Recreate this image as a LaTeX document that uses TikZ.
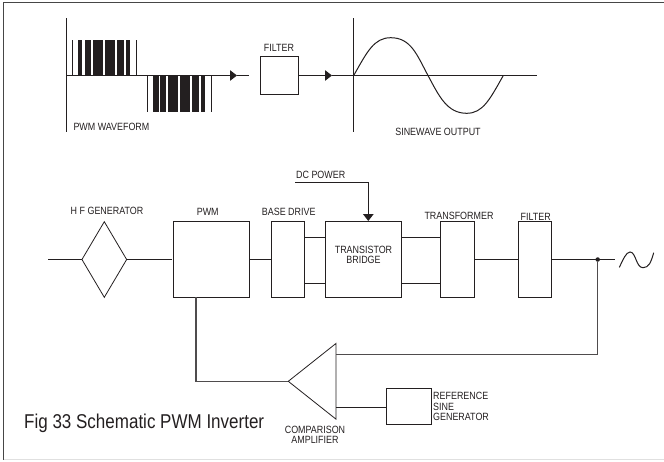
\documentclass[tikz,border=0pt]{standalone}
\usepackage{fontspec}
\setmainfont[FakeStretch=0.85]{Liberation Sans}
\usepackage{xcolor}
\usetikzlibrary{arrows.meta,shapes.geometric}
\definecolor{inkdark}{RGB}{35,31,32}
\definecolor{framegrey}{RGB}{70,70,70}
\tikzset{
  blockbox/.style={draw=inkdark,line width=0.9pt,inner sep=0pt,outer sep=0pt},
  sigline/.style={draw=inkdark,line width=1pt},
  fbline/.style={draw=inkdark!80,line width=1.2pt},
  sigarrow/.style={sigline,-{Triangle[length=7pt,width=10.5pt]}},
  lab/.style={font=\fontsize{10.5}{10.5}\selectfont,text=inkdark,inner sep=0pt}
}
\begin{document}
\begin{tikzpicture}[x=1pt,y=-1pt]
  \useasboundingbox (0,0) rectangle (664,461);
  % frame
  \draw[framegrey,line width=1.2pt] (3.5,459.5) -- (3.5,2.5) -- (664,2.5);
  \draw[black!12,line width=0.8pt] (3.5,459.5) -- (664,459.5);

  % pwm waveform
  \foreach \a/\b in {72.3/73.3,77.5/82.3,84.7/91,92.7/103.3,105/115,117/123.7,125.7/130.3,135.7/136.7}{
    \fill[inkdark] (\a,39.5) rectangle (\b,75.5);
  }
  \foreach \a/\b in {146.7/147.5,152.7/158.7,160/166,168/178.3,180/190,192/198.7,201/205.3,210.7/211.7}{
    \fill[inkdark] (\a,75.5) rectangle (\b,112);
  }
  \coordinate (pwmtop) at (66,18);
  \coordinate (pwmbot) at (66,132);
  \coordinate (pwmzero) at (66,75.5);
  \coordinate (pwmtip) at (237,75.5);
  \coordinate (pwmend) at (249,75.5);
  \draw[sigline] (pwmtop) -- (pwmbot);
  \draw[sigarrow] (pwmzero) -- (pwmtip);
  \draw[sigline] (pwmtip) -- (pwmend);
  \node[lab,anchor=west] (pwmlab) at (73.3,126.5) {PWM WAVEFORM};

  % filter between the plots
  \node[blockbox,minimum width=38.7pt,minimum height=38.7pt] (topfilter) at (279.3,75.5) {};
  \node[lab] (topfilterlab) at (279,48) {FILTER};
  \coordinate (sinetop) at (353.7,18);
  \coordinate (sinebot) at (353.7,132);
  \coordinate (sinezero) at (353.7,75.5);
  \coordinate (sineend) at (536.7,75.5);
  \coordinate (filtertip) at (332,75.5);
  \draw[sigarrow] (topfilter) -- (filtertip);
  \draw[sigline] (filtertip) -- (sinezero);

  % sinewave
  \draw[sigline] (sinetop) -- (sinebot);
  \draw[sigline] (sinezero) -- (sineend);
  \draw[sigline] (sinezero) .. controls (367,52) and (374,37.7) .. (390.7,37.7)
    .. controls (411,37.7) and (417,55) .. (428,75.5)
    .. controls (439,96) and (447,113.3) .. (466.7,113.3)
    .. controls (483,113.3) and (490,99) .. (503.3,75.5);
  \node[lab] (sinelab) at (438,132) {SINEWAVE OUTPUT};

  % lower chain
  \coordinate (inlet) at (48,259.5);
  \coordinate (pwmin) at (171.7,259.5);
  \node[draw=inkdark,line width=0.8pt,diamond,aspect=0.6,inner sep=0pt,outer sep=0pt,minimum width=44.7pt,minimum height=75.6pt] (hfgen) at (104.3,259.5) {};
  \node[blockbox,minimum width=76.4pt,minimum height=75.5pt] (pwm) at (211.5,259.5) {};
  \node[blockbox,minimum width=33.7pt,minimum height=75.5pt] (basedrive) at (287.9,259.5) {};
  \node[blockbox,minimum width=76.4pt,minimum height=75.5pt] (bridge) at (363.5,259.5) {};
  \node[blockbox,minimum width=33.7pt,minimum height=75.5pt] (xformer) at (457.2,259.5) {};
  \node[blockbox,minimum width=33.4pt,minimum height=75.5pt] (outfilter) at (535,259.5) {};
  \node[lab] (hfgenlab) at (107,210.5) {H F GENERATOR};
  \node[lab] (pwmlab2) at (207.7,212) {PWM};
  \node[lab] (basedrivelab) at (288.7,212) {BASE DRIVE};
  \node[lab,align=center,font=\fontsize{10.5}{10}\selectfont] (bridgelab) at (363.5,255) {TRANSISTOR\\BRIDGE};
  \node[lab] (xformerlab) at (459,216) {TRANSFORMER};
  \node[lab] (outfilterlab) at (535.7,217) {FILTER};

  \draw[sigline] (inlet) -- (hfgen);
  \draw[sigline] (hfgen) -- (pwmin);
  \draw[sigline] (pwm) -- (basedrive);
  \foreach \y in {237.3,283.3}{
    \draw[sigline] (basedrive.east|-0,\y) -- (bridge.west|-0,\y);
    \draw[sigline] (bridge.east|-0,\y) -- (xformer.west|-0,\y);
  }
  \draw[sigline] (xformer) -- (outfilter);

  % output and feedback
  \coordinate (outend) at (615,259.5);
  \node[circle,fill=inkdark,inner sep=0pt,minimum size=4.5pt] (tap) at (597.7,259.5) {};
  \draw[sigline] (outfilter) -- (outend);
  \draw[sigline] (619.3,267.3) .. controls (623,260) and (626,252) .. (630,252)
    .. controls (636,252) and (636,267.7) .. (643,267.7)
    .. controls (649,267.7) and (651,262) .. (653.7,252.7);

  % dc power
  \coordinate (dcstart) at (295,182.3);
  \node[lab] (dclab) at (320.7,175) {DC POWER};
  \draw[sigline,line width=1.2pt,-{Triangle[length=7pt,width=10.5pt]}] (dcstart) -| (368.3,221);

  % comparison amplifier
  \node[draw=inkdark,line width=0.8pt,isosceles triangle,isosceles triangle stretches,shape border rotate=180,inner sep=0pt,outer sep=0pt,minimum width=75.7pt,minimum height=47.7pt] (amp) at (317.7,381.3) {};
  \node[blockbox,minimum width=45pt,minimum height=36pt] (refgen) at (409.2,406.3) {};
  \node[lab,align=left,anchor=west,font=\fontsize{10.5}{10.4}\selectfont] (refgenlab) at (433,406.5) {REFERENCE\\SINE\\GENERATOR};
  \node[lab,align=center,font=\fontsize{10.5}{10.2}\selectfont] (amplab) at (315,435) {COMPARISON\\AMPLIFIER};
  \draw[fbline] (tap) |- (amp.east|-0,354.7);
  \draw[fbline] (pwm.south-|196,0) |- (amp.apex);
  \draw[sigline] (refgen.west|-0,407.3) -- (amp.east|-0,407.3);

  \node[lab,anchor=west,font=\fontsize{20}{20}\selectfont] (caption) at (24,423) {Fig 33 Schematic PWM Inverter};
\end{tikzpicture}
\end{document}
